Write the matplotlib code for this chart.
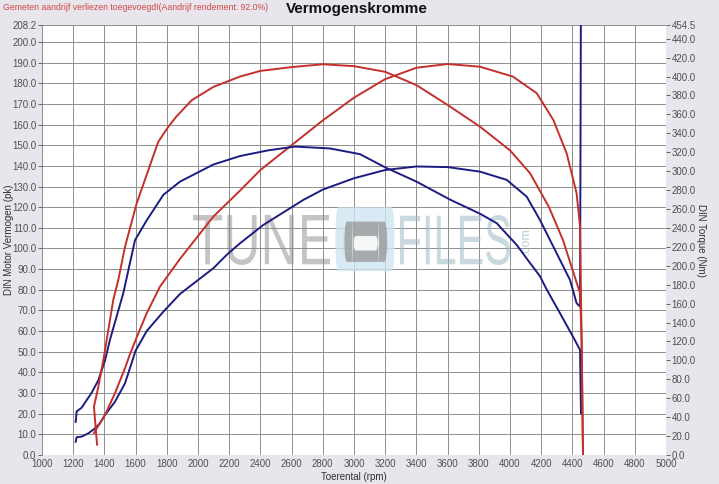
import matplotlib.pyplot as plt
from matplotlib.patches import FancyBboxPatch, PathPatch
from matplotlib.textpath import TextPath
from matplotlib.font_manager import FontProperties
from matplotlib.transforms import Affine2D

plt.rcParams['font.family'] = ['Liberation Sans', 'DejaVu Sans']

# ---- run 1 (blauw) -------------------------------------------------------
rpm_blue_pk = [1216, 1222, 1254, 1297, 1340, 1372, 1404, 1468, 1532, 1600,
               1671, 1778, 1885, 2098, 2184, 2269, 2419, 2675, 2800, 3000,
               3200, 3400, 3600, 3808, 3979, 4107, 4192, 4299, 4385, 4427,
               4449, 4455]
pk_blue = [6.4, 8.6, 8.9, 10.5, 12.9, 15.4, 19.4, 25.8, 34.7, 50.5,
           60.0, 69.4, 78.0, 90.4, 96.9, 102.5, 111.4, 123.5, 128.5, 134.0,
           138.0, 139.7, 139.4, 137.2, 133.2, 125.1, 113.8, 97.7, 84.7, 73.5,
           71.8, 230.0]

rpm_blue_nm = [1216, 1222, 1254, 1319, 1361, 1404, 1436, 1521, 1596, 1671,
               1778, 1885, 2098, 2269, 2450, 2622, 2846, 3038, 3200, 3400,
               3615, 3808, 3915, 4043, 4128, 4192, 4235, 4320, 4404, 4449,
               4455]
nm_blue = [35, 46, 50, 66, 79, 100, 122, 171, 227, 248,
           275, 289, 307, 316, 322, 326, 324, 318, 304, 289,
           270, 255, 245, 222, 203, 189, 175, 150, 125, 111,
           44]

# ---- run 2 (rood) --------------------------------------------------------
rpm_red_pk = [1333, 1351, 1404, 1468, 1532, 1560, 1607, 1671, 1756, 1885,
              2098, 2269, 2400, 2600, 2800, 3000, 3200, 3400, 3600, 3808,
              4019, 4171, 4278, 4363, 4427, 4449, 4459, 4468]
pk_red = [10.6, 12.9, 19.4, 30.0, 42.0, 48.0, 57.0, 68.6, 81.5, 95.0,
          115.4, 128.0, 138.0, 150.0, 162.0, 173.0, 182.0, 187.5, 189.3, 188.0,
          183.2, 175.2, 162.2, 146.1, 126.7, 110.6, 55.7, 0.0]

rpm_red_nm = [1353, 1333, 1361, 1393, 1415, 1457, 1489, 1532, 1607, 1745,
              1810, 1863, 1960, 2098, 2269, 2400, 2600, 2800, 3000, 3200,
              3400, 3600, 3808, 4000, 4128, 4250, 4340, 4449, 4459, 4468]
nm_red = [11, 51, 72, 100, 122, 164, 185, 220, 266, 331,
          347, 358, 375, 389, 400, 406, 410, 413, 411, 405,
          391, 370, 347, 322, 298, 262, 227, 171, 122, 0]

x_ticks = list(range(1000, 5001, 200))
pk_ticks = [i * 10 for i in range(21)] + [208.2]
nm_ticks = list(range(0, 441, 20)) + [454.5]

BLUE = '#1c1c82'
RED = '#c4302b'
TXT = '#505050'


def logo_word(ax, word, x0, x1, y0, y1, color, alpha):
    # word stretched into a box given in data coords
    tp = TextPath((0, 0), word, size=1, prop=FontProperties(family='Liberation Sans'))
    ext = tp.get_extents()
    tr = Affine2D().translate(-ext.x0, -ext.y0).scale((x1 - x0) / ext.width,
                                                       (y1 - y0) / ext.height).translate(x0, y0)
    ax.add_patch(PathPatch(tr.transform_path(tp), fc=color, ec='none', alpha=alpha, zorder=1))


fig = plt.figure(figsize=(7.19, 4.84), dpi=100, facecolor='#e8e6ec')
ax = fig.add_axes([42 / 719, 29 / 484, 624 / 719, 430 / 484])
ax.set_facecolor('white')
ax.set_xlim(1000, 5000)
ax.set_ylim(0, 208.2)
for s in ax.spines.values():
    s.set_visible(False)

ax.set_xticks(x_ticks)
ax.set_xticklabels([str(t) for t in x_ticks])
ax.set_yticks(pk_ticks)
ax.set_yticklabels(['%.1f' % t for t in pk_ticks])
ax.grid(True, color='#8e8e8e', lw=0.7)
ax.set_axisbelow(True)
ax.tick_params(axis='both', labelsize=7, colors=TXT, length=3, width=0.6, pad=1)
ax.tick_params(axis='x', length=0, pad=3)
ax.set_xlabel('Toerental (rpm)', fontsize=7, color='#303030')
ax.xaxis.set_label_coords(0.5, -0.04)
ax.set_ylabel('DIN Motor Vermogen (pk)', fontsize=7, color='#303030')
ax.yaxis.set_label_coords(-28 / 624, 0.5)

ax2 = ax.twinx()
ax2.set_ylim(0, 454.5)
ax2.patch.set_visible(False)
for s in ax2.spines.values():
    s.set_visible(False)
ax2.set_yticks(nm_ticks)
ax2.set_yticklabels(['%.1f' % t for t in nm_ticks])
ax2.tick_params(axis='y', labelsize=7, colors=TXT, length=3, width=0.6, pad=1)
ax2.set_ylabel('DIN Torque (Nm)', fontsize=7, color='#303030', rotation=-90, va='center')
ax2.yaxis.set_label_coords(1 + 35 / 624, 0.5)

# watermark
logo_word(ax, 'TUNE', 1968, 2846, 92.0, 116.2, '#8a8a8a', 0.5)
logo_word(ax, 'FILES', 3295, 4000, 92.0, 116.2, '#9fb8c8', 0.55)
ax.text(4100, 104, '.com', fontsize=9, color='#9fb8c8', alpha=0.7,
        rotation=90, va='center', ha='center', zorder=1)
ax.add_patch(FancyBboxPatch((2880, 89), 380, 31, boxstyle='round,pad=0,rounding_size=20',
                            fc='#cfe5f1', ec='none', alpha=0.8, zorder=1))
ax.add_patch(FancyBboxPatch((2935, 93.5), 280, 19.5, boxstyle='round,pad=0,rounding_size=20',
                            fc='#9a9a9a', ec='none', alpha=0.8, zorder=1))
ax.add_patch(FancyBboxPatch((2990, 99), 170, 7, boxstyle='round,pad=0,rounding_size=20',
                            fc='white', ec='none', alpha=0.9, zorder=1))

# curves
ax.plot(rpm_blue_pk, pk_blue, color=BLUE, lw=1.4, zorder=3)
ax2.plot(rpm_blue_nm, nm_blue, color=BLUE, lw=1.4, zorder=3)
ax.plot(rpm_red_pk, pk_red, color=RED, lw=1.4, zorder=3)
ax2.plot(rpm_red_nm, nm_red, color=RED, lw=1.4, zorder=3)

fig.text(3 / 719, 1 - 8 / 484, 'Gemeten aandrijf verliezen toegevoegd!(Aandrijf rendement: 92.0%)',
         fontsize=6.3, color='#d04848', va='center', ha='left')
fig.text(357 / 719, 1 - 9 / 484, 'Vermogenskromme', fontsize=11, fontweight='bold',
         color='#111111', va='center', ha='center')

fig.savefig('out.png', dpi=100, facecolor=fig.get_facecolor())
